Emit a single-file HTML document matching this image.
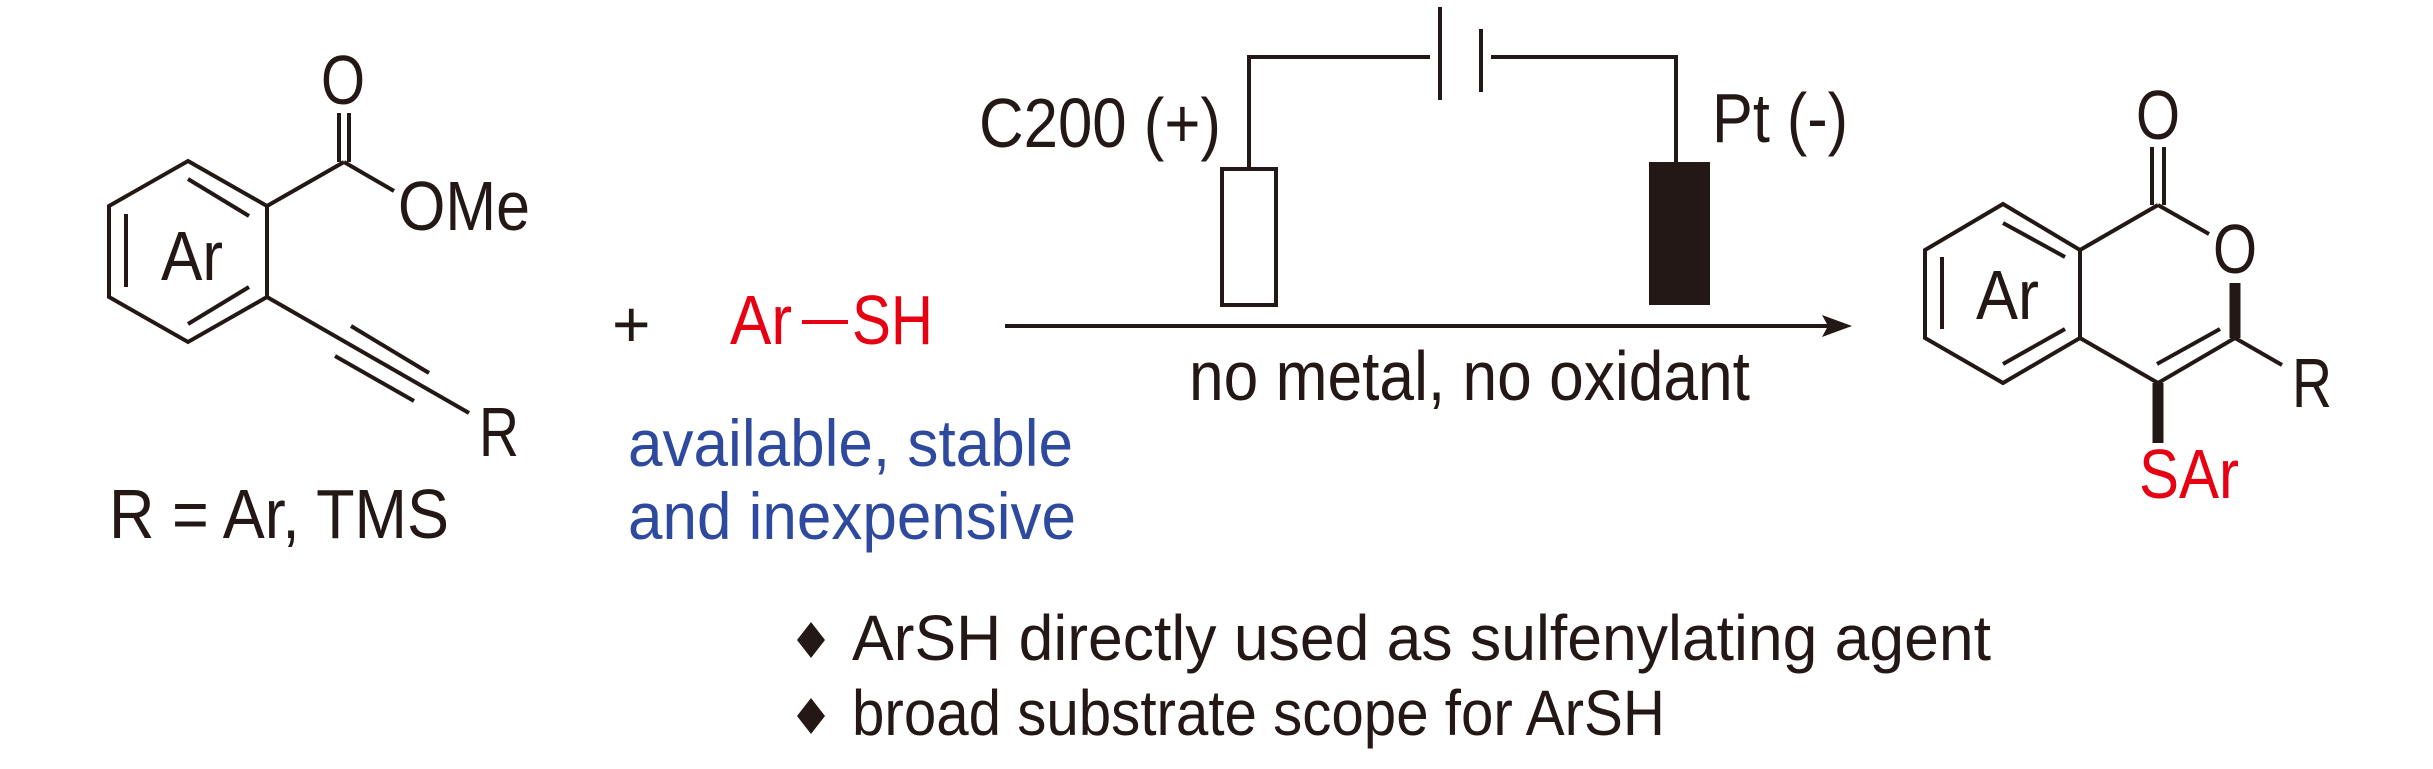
<!DOCTYPE html>
<html><head><meta charset="utf-8"><style>
html,body{margin:0;padding:0;background:#fff;}
svg{display:block;}
text{font-family:"Liberation Sans",Arial,sans-serif;}
</style></head><body>
<svg width="2433" height="769" viewBox="0 0 2433 769" xmlns="http://www.w3.org/2000/svg">
<g stroke="#231815" stroke-width="4" fill="none" stroke-linecap="butt">
<polygon points="188,161 267,206 267,297 188,342 109,297 109,206"/>
<line x1="188" y1="179" x2="249" y2="216"/>
<line x1="126" y1="214" x2="126" y2="287"/>
<line x1="188" y1="324" x2="249" y2="287"/>
<line x1="267" y1="206" x2="344" y2="162"/>
<line x1="339" y1="113" x2="339" y2="162"/>
<line x1="349" y1="113" x2="349" y2="162"/>
<line x1="344" y1="162" x2="394" y2="191"/>
<line x1="267" y1="297" x2="469" y2="413"/>
<line x1="351" y1="326" x2="429" y2="373"/>
<line x1="335" y1="356" x2="414" y2="401"/>
<polyline points="1249,169 1249,57 1430,57"/>
<line x1="1440" y1="7" x2="1440" y2="100"/>
<line x1="1481" y1="29" x2="1481" y2="92"/>
<polyline points="1491,57 1676,57 1676,162"/>
<rect x="1222" y="169" width="54" height="136"/>
<line x1="1005" y1="326" x2="1835" y2="326"/>
<polygon points="2003,204 2080,250 2080,338 2003,383 1925,338 1925,250"/>
<line x1="2003" y1="223" x2="2065" y2="257"/>
<line x1="1942" y1="257" x2="1942" y2="329"/>
<line x1="2003" y1="364" x2="2065" y2="329"/>
<line x1="2080" y1="250" x2="2158" y2="205"/>
<line x1="2152" y1="147" x2="2152" y2="205"/>
<line x1="2164" y1="147" x2="2164" y2="205"/>
<line x1="2158" y1="205" x2="2209" y2="234"/>
<line x1="2235" y1="338" x2="2158" y2="383"/>
<line x1="2157" y1="364" x2="2220" y2="329"/>
<line x1="2158" y1="383" x2="2080" y2="338"/>
<line x1="2235" y1="338" x2="2282" y2="365"/>
</g>
<rect x="1649" y="162" width="61" height="143" fill="#231815"/>
<polygon points="1852,326 1822,315 1828,326 1822,337" fill="#231815"/>
<line x1="2235" y1="283" x2="2235" y2="338" stroke="#231815" stroke-width="11"/>
<line x1="2158" y1="383" x2="2158" y2="443" stroke="#231815" stroke-width="11"/>
<g fill="#231815" font-size="70">
<text x="321" y="104" textLength="44" lengthAdjust="spacingAndGlyphs">O</text>
<text x="398" y="230" textLength="132" lengthAdjust="spacingAndGlyphs">OMe</text>
<text x="161" y="280" textLength="62" lengthAdjust="spacingAndGlyphs">Ar</text>
<text x="479" y="456" textLength="40" lengthAdjust="spacingAndGlyphs">R</text>
<text x="109" y="538" textLength="340" lengthAdjust="spacingAndGlyphs">R = Ar,  TMS</text>
<text x="612" y="347" font-size="66">+</text>
<text x="979" y="147" textLength="242" lengthAdjust="spacingAndGlyphs">C200 (+)</text>
<text x="1712" y="142" textLength="136" lengthAdjust="spacingAndGlyphs">Pt (-)</text>
<text x="1189" y="400" textLength="561" lengthAdjust="spacingAndGlyphs">no metal, no oxidant</text>
<text x="2136" y="139" textLength="44" lengthAdjust="spacingAndGlyphs">O</text>
<text x="2213" y="273" textLength="44" lengthAdjust="spacingAndGlyphs">O</text>
<text x="1976" y="319" textLength="63" lengthAdjust="spacingAndGlyphs">Ar</text>
<text x="2292" y="407" textLength="40" lengthAdjust="spacingAndGlyphs">R</text>
</g>
<text x="2139" y="498" font-size="70" fill="#e60012" textLength="100" lengthAdjust="spacingAndGlyphs">SAr</text>
<g fill="#e60012" font-size="70">
<text x="730" y="344" textLength="62" lengthAdjust="spacingAndGlyphs">Ar</text>
<text x="852" y="344" textLength="81" lengthAdjust="spacingAndGlyphs">SH</text>
</g>
<line x1="802" y1="322" x2="848" y2="322" stroke="#e60012" stroke-width="4"/>
<g fill="#2e4a9e" font-size="66">
<text x="628" y="466" textLength="445" lengthAdjust="spacingAndGlyphs">available, stable</text>
<text x="628" y="539" textLength="448" lengthAdjust="spacingAndGlyphs">and inexpensive</text>
</g>
<g fill="#231815">
<polygon points="811,622 825,640 811,658 797,640"/>
<polygon points="811,698 825,716 811,734 797,716"/>
<text x="852" y="660" font-size="64" textLength="1139" lengthAdjust="spacingAndGlyphs">ArSH directly used as sulfenylating agent</text>
<text x="852" y="735" font-size="64" textLength="813" lengthAdjust="spacingAndGlyphs">broad substrate scope for ArSH</text>
</g>
</svg>
</body></html>
